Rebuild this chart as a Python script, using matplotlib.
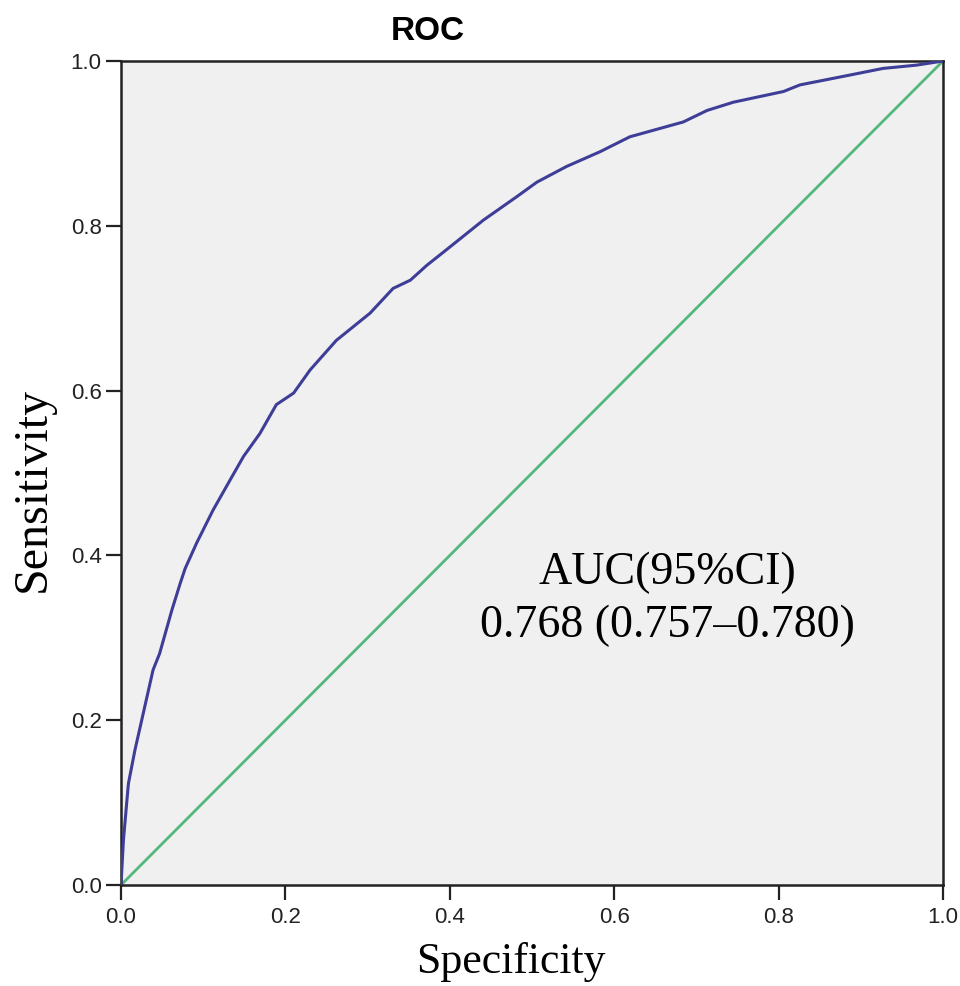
import matplotlib
matplotlib.use("Agg")
import matplotlib.pyplot as plt

# ROC curve points
roc_x = [0.0, 0.003, 0.009, 0.017, 0.027, 0.039, 0.047, 0.062, 0.072, 0.078, 0.092,
         0.112, 0.133, 0.149, 0.169, 0.189, 0.210, 0.230, 0.262, 0.303, 0.331,
         0.352, 0.372, 0.396, 0.441, 0.481, 0.506, 0.542, 0.583, 0.619, 0.684,
         0.713, 0.745, 0.806, 0.826, 0.887, 0.927, 0.968, 1.0]
roc_y = [0.0, 0.055, 0.123, 0.164, 0.208, 0.261, 0.281, 0.334, 0.366, 0.384, 0.415,
         0.455, 0.492, 0.520, 0.548, 0.583, 0.597, 0.625, 0.661, 0.694, 0.724,
         0.734, 0.752, 0.771, 0.807, 0.835, 0.853, 0.872, 0.890, 0.908, 0.926,
         0.940, 0.950, 0.963, 0.971, 0.983, 0.991, 0.995, 1.0]
ref_x = [0.0, 1.0]
ref_y = [0.0, 1.0]
ticks = [0.0, 0.2, 0.4, 0.6, 0.8, 1.0]
tick_labels = ["0.0", "0.2", "0.4", "0.6", "0.8", "1.0"]
title = "ROC"
x_label = "Specificity"
y_label = "Sensitivity"
auc_text = "AUC(95%CI)\n0.768 (0.757\u20130.780)"

serif = ["Liberation Serif", "DejaVu Serif"]
sans = ["Liberation Sans", "DejaVu Sans"]

fig = plt.figure(figsize=(9.6, 9.86), dpi=100)
ax = fig.add_axes([121/960, 1 - 885/986, 822/960, 824/986])
ax.set_facecolor("#f0f0f0")
ax.plot(ref_x, ref_y, color="#52b87c", lw=2.0, zorder=2)
ax.plot(roc_x, roc_y, color="#3e3e98", lw=2.2, zorder=3, solid_joinstyle="round")
ax.set_xlim(0, 1)
ax.set_ylim(0, 1)
ax.set_xticks(ticks)
ax.set_xticklabels(tick_labels)
ax.set_yticks(ticks)
ax.set_yticklabels(tick_labels)
for s in ax.spines.values():
    s.set_color("#222222")
    s.set_linewidth(1.8)
ax.tick_params(direction="out", length=11, width=1.6, color="#222222",
               labelsize=16, labelcolor="#222222")
ax.tick_params(axis="x", pad=5)
ax.tick_params(axis="y", pad=3)
for lab in ax.get_xticklabels() + ax.get_yticklabels():
    lab.set_family(sans)

fig.text(511/960, 1 - 962/986, x_label, ha="center", va="center",
         family=serif, fontsize=31.5)
fig.text(33/960, 1 - 489/986, y_label, ha="center", va="center", rotation=90,
         family=serif, fontsize=34.5)
fig.text(428/960, 1 - 32/986, title, ha="center", va="center",
         family=sans, fontweight="bold", fontsize=24)
ax.text(0.665, 0.347, auc_text, transform=ax.transAxes, ha="center", va="center",
        family=serif, fontsize=33, linespacing=1.33)

fig.savefig("out.png", dpi=100)
